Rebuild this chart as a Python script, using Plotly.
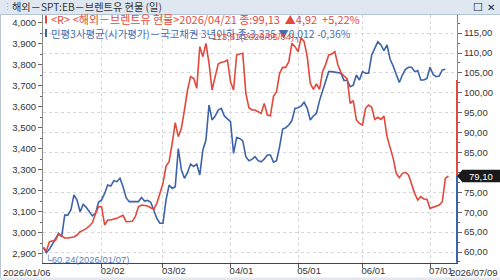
import pandas as pd
import plotly.graph_objects as go

W, H = 500, 280

# ---- data -------------------------------------------------------------
dates = pd.bdate_range("2026-01-06", "2026-07-09").strftime("%Y-%m-%d").tolist()

brent = [61.17, 60.24, 62.60, 62.76, 62.93, 64.52, 64.02, 63.52, 63.52, 63.60,
         63.77, 64.27, 65.11, 65.44, 65.86, 66.53, 67.37, 69.55, 71.39, 71.39,
         66.78, 68.04, 68.04, 68.29, 68.46, 68.88, 69.21, 67.62, 67.62, 67.71,
         68.88, 71.39, 71.81, 71.73, 71.56, 71.14, 70.72, 72.23, 74.74, 77.25,
         81.61, 82.70, 87.30, 92.50, 88.98, 91.07, 95.68, 100.70, 104.05, 103.63,
         101.12, 111.60, 109.08, 112.43, 107.40, 100.70, 104.05, 107.24, 107.66, 107.82,
         108.24, 102.80, 100.70, 109.50, 109.75, 109.92, 99.87, 96.26, 95.68, 95.68,
         95.26, 94.84, 97.35, 94.42, 94.21, 99.13, 100.28, 104.89, 106.40, 106.40,
         107.82, 112.43, 111.59, 110.34, 113.81, 112.85, 109.08, 102.38, 100.87, 102.21,
         100.87, 105.31, 107.15, 109.50, 109.75, 110.34, 106.98, 105.06, 104.22, 103.55,
         97.35, 98.02, 93.17, 92.33, 91.91, 96.10, 96.93, 96.35, 93.33, 93.84,
         93.33, 94.17, 88.98, 86.05, 83.53, 79.77, 78.68, 79.77, 80.02, 79.35,
         77.09, 74.74, 73.07, 73.90, 73.32, 73.23, 70.97, 71.22, 71.56, 71.81,
         72.65, 78.51, 79.10]

bond = [2929, 2904, 2920, 2944, 2967, 2996, 2980, 3083, 3083, 3107,
        3179, 3155, 3099, 3134, 3120, 3099, 3079, 3091, 3144, 3155,
        3186, 3226, 3221, 3247, 3242, 3258, 3218, 3166, 3147, 3147,
        3147, 3147, 3167, 3150, 3153, 3144, 3107, 3067, 3044, 3044,
        3155, 3226, 3210, 3218, 3400, 3298, 3258, 3286, 3326, 3314,
        3326, 3274, 3393, 3440, 3607, 3536, 3555, 3583, 3591, 3555,
        3541, 3528, 3377, 3452, 3448, 3436, 3361, 3342, 3348, 3361,
        3342, 3337, 3350, 3369, 3369, 3335, 3342, 3409, 3493, 3499,
        3512, 3533, 3591, 3594, 3602, 3620, 3591, 3536, 3555, 3567,
        3628, 3671, 3718, 3766, 3766, 3763, 3758, 3758, 3723, 3726,
        3694, 3702, 3750, 3726, 3766, 3758, 3758, 3845, 3877, 3909,
        3893, 3866, 3893, 3825, 3793, 3755, 3714, 3750, 3777, 3787,
        3787, 3766, 3771, 3726, 3726, 3734, 3787, 3753, 3742, 3745,
        3774, 3777, None]

x_tick_dates = ["2026-02-02", "2026-03-02", "2026-04-01", "2026-05-01", "2026-06-01", "2026-07-01"]
x_tick_text = ["02/02", "03/02", "04/01", "05/01", "06/01", "07/01"]
left_tick_vals = [2900, 3000, 3100, 3200, 3300, 3400, 3500, 3600, 3700, 3800, 3900, 4000]
left_tick_text = ["2,900", "3,000", "3,100", "3,200", "3,300", "3,400", "3,500",
                  "3,600", "3,700", "3,800", "3,900", "4,000"]
right_tick_vals = [60, 65, 70, 75, 80, 85, 90, 95, 100, 105, 110, 115]
right_tick_text = ["60,00", "65,00", "70,00", "75,00", "80,00", "85,00", "90,00",
                   "95,00", "100,00", "105,00", "110,00", "115,00"]

title_text = "해외－SPT:EB－브렌트유 현물 (일)"
legend_red = "<R> <해외－브렌트유 현물>2026/04/21 종:99,13  ▲4,92  +5,22%"
legend_blue = "민평3사평균(시가평가)－국고채권 3년이하 종:3,335 ▼0,012 -0,36%"
high_label = "113,81(2026/05/04)┐"
low_label = "└60,24(2026/01/07)"
last_label = "79,10"
high_date, high_val = "2026-05-04", 113.81
low_date, low_val = "2026-01-07", 60.24
last_val = 79.10
start_label, end_label = "2026/01/06", "2026/07/09"

RED = "#e2483c"
BLUE = "#3d63a9"
NUMFONT = "Liberation Sans, Arial, sans-serif"
KRFONT = "Noto Sans CJK KR, sans-serif"


def px(x):
    return x / W


def py(y):
    return 1 - y / H


fig = go.Figure()
fig.add_trace(go.Scatter(x=dates, y=bond, mode="lines", yaxis="y",
                         line=dict(color=BLUE, width=1.6), connectgaps=False))
fig.add_trace(go.Scatter(x=dates, y=brent, mode="lines", yaxis="y2",
                         line=dict(color=RED, width=1.6)))

shapes = [
    dict(type="rect", xref="paper", yref="paper", x0=0, x1=1, y0=py(14), y1=1,
         fillcolor="#dfe8f1", line=dict(width=0), layer="below"),
    dict(type="line", xref="paper", yref="paper", x0=0, x1=1, y0=py(14.5), y1=py(14.5),
         line=dict(color="#b5c4d4", width=1)),
    dict(type="line", xref="paper", yref="paper", x0=px(0.5), x1=px(0.5), y0=0, y1=py(14),
         line=dict(color="#b9c6d3", width=1)),
    dict(type="rect", xref="paper", yref="paper", x0=0, x1=1, y0=0, y1=py(277.5),
         fillcolor="#e4e8ee", line=dict(width=0)),
    # legend colour markers
    dict(type="rect", xref="paper", yref="paper", x0=px(45), x1=px(47), y0=py(23.5), y1=py(15.5),
         fillcolor=RED, line=dict(width=0)),
    dict(type="rect", xref="paper", yref="paper", x0=px(45), x1=px(47), y0=py(37), y1=py(29),
         fillcolor=BLUE, line=dict(width=0)),
    # right axis current-value bars
    dict(type="line", xref="paper", yref="y2", x0=px(457), x1=px(457), y0=last_val, y1=103.2,
         line=dict(color=RED, width=2)),
    dict(type="line", xref="paper", yref="y2", x0=px(457), x1=px(457), y0=57.3, y1=last_val,
         line=dict(color=BLUE, width=2)),
    # last value box
    dict(type="rect", xref="paper", yref="y2", x0=px(462), x1=px(500),
         y0=last_val - 1.6, y1=last_val + 1.6, fillcolor="#1a1a1a", line=dict(width=0)),
    dict(type="path", xref="paper", yref="y2",
         path=f"M {px(457)},{last_val} L {px(462.5)},{last_val + 1.6} L {px(462.5)},{last_val - 1.6} Z",
         fillcolor="#1a1a1a", line=dict(width=0)),
]

annotations = [
    dict(text=title_text, xref="paper", yref="paper", x=px(10), y=py(6.5), xanchor="left",
         yanchor="middle", showarrow=False, font=dict(family=KRFONT, size=10.2, color="#333")),
    dict(text="⋮", xref="paper", yref="paper", x=px(1), y=py(7), xanchor="left",
         yanchor="middle", showarrow=False, font=dict(size=9, color="#9aa")),
    dict(text="☐", xref="paper", yref="paper", x=px(478), y=py(7), xanchor="center",
         yanchor="middle", showarrow=False, font=dict(family="DejaVu Sans", size=11, color="#222")),
    dict(text="✕", xref="paper", yref="paper", x=px(491), y=py(7), xanchor="center",
         yanchor="middle", showarrow=False, font=dict(family="DejaVu Sans", size=10, color="#222")),
    dict(text=legend_red, xref="paper", yref="paper", x=px(49), y=py(19.5), xanchor="left",
         yanchor="middle", showarrow=False, font=dict(family=KRFONT, size=11, color=RED)),
    dict(text=legend_blue, xref="paper", yref="paper", x=px(49), y=py(33), xanchor="left",
         yanchor="middle", showarrow=False, font=dict(family=KRFONT, size=10.4, color="#4a6db0")),
    dict(text=high_label, xref="x", yref="y2", x=high_date, y=high_val, xanchor="right",
         yanchor="middle", showarrow=False, xshift=2, yshift=0,
         font=dict(family=NUMFONT, size=9.5, color=RED)),
    dict(text=low_label, xref="x", yref="y2", x=low_date, y=low_val, xanchor="left",
         yanchor="top", showarrow=False, xshift=-3, yshift=-1,
         font=dict(family=NUMFONT, size=9.5, color="#5d7fc0")),
    dict(text=last_label, xref="paper", yref="y2", x=px(481), y=last_val, xanchor="center",
         yanchor="middle", showarrow=False, font=dict(family=NUMFONT, size=9.5, color="white")),
    dict(text=start_label, xref="paper", yref="paper", x=px(1), y=py(272), xanchor="left",
         yanchor="middle", showarrow=False, font=dict(family=NUMFONT, size=9.5, color="#333")),
    dict(text=end_label, xref="paper", yref="paper", x=px(500), y=py(272), xanchor="right",
         yanchor="middle", showarrow=False, font=dict(family=NUMFONT, size=9.5, color="#333")),
]

fig.update_layout(
    width=W, height=H, margin=dict(l=0, r=0, t=0, b=0),
    paper_bgcolor="white", plot_bgcolor="white", showlegend=False,
    font=dict(family=NUMFONT, size=9.5, color="#333"),
    xaxis=dict(type="date", domain=[px(43), px(457)],
               range=["2026-01-05 22:00", "2026-07-13 19:00"],
               rangebreaks=[dict(bounds=["sat", "mon"])],
               tickvals=x_tick_dates, ticktext=x_tick_text, ticklabelshift=11,
               ticklabelstandoff=-5,
               ticks="outside", ticklen=4, tickcolor="#555",
               showline=True, linecolor="#444", linewidth=1,
               showgrid=True, gridcolor="#d6d6d6", griddash="dot", gridwidth=1,
               zeroline=False, automargin=False, fixedrange=True),
    yaxis=dict(domain=[py(263), py(15)], range=[2854.8, 4035.7],
               tickvals=left_tick_vals, ticktext=left_tick_text,
               ticks="outside", ticklen=4, tickcolor="#666",
               minor=dict(ticks="outside", ticklen=2, dtick=50, tick0=2900, tickcolor="#666"),
               showline=True, linecolor="#888", linewidth=1, showgrid=False,
               zeroline=False, automargin=False),
    yaxis2=dict(overlaying="y", side="right", anchor="x", range=[57.24, 119.55],
                tickvals=right_tick_vals, ticktext=right_tick_text,
                ticks="outside", ticklen=4, tickcolor="#666",
                minor=dict(ticks="outside", ticklen=2, dtick=2.5, tick0=60, tickcolor="#666"),
                showline=True, linecolor="#888", linewidth=1,
                showgrid=True, gridcolor="#d6d6d6", griddash="dot", gridwidth=1,
                zeroline=False, automargin=False),
    shapes=shapes, annotations=annotations,
)

fig.write_html("out.html")
